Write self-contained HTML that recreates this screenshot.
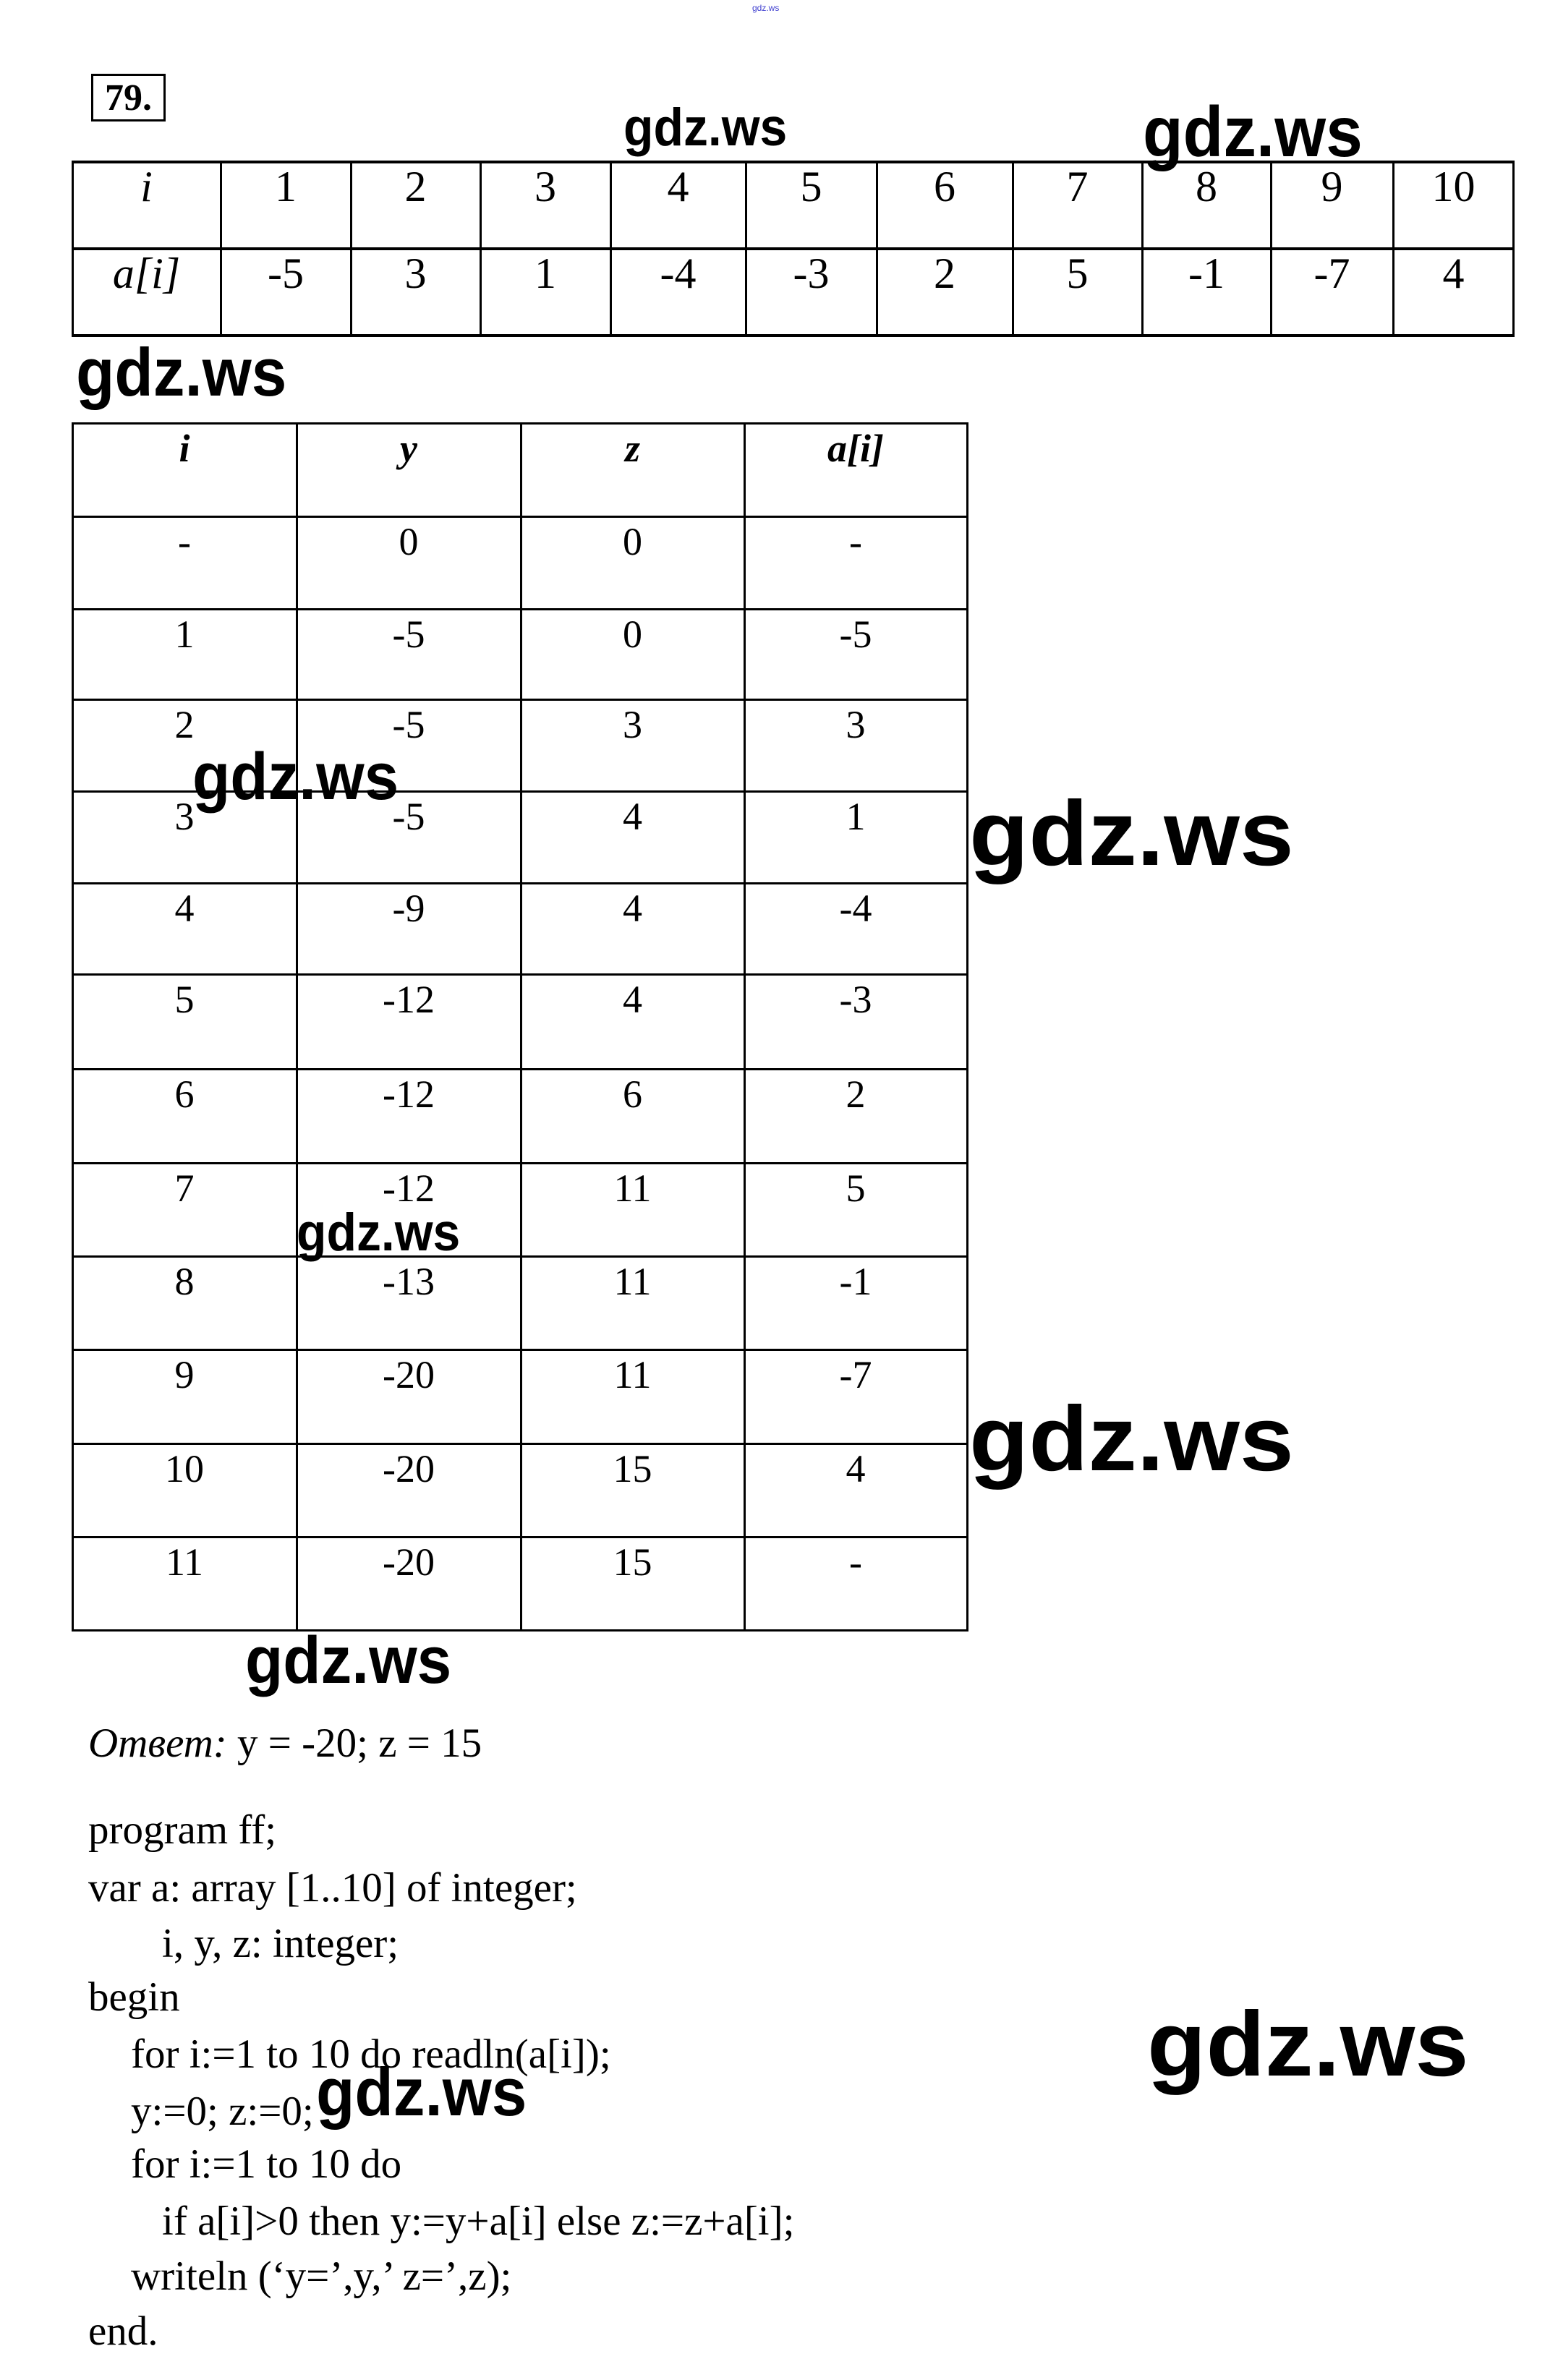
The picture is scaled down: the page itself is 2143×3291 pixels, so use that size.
<!DOCTYPE html>
<html><head><meta charset="utf-8"><style>
body{margin:0;width:2143px;height:3291px;background:#fff;position:relative;overflow:hidden;font-family:"Liberation Serif",serif;color:#000}
.a{position:absolute;white-space:nowrap}
.h{position:absolute;background:#000}
.c{position:absolute;text-align:center;font-size:60px;line-height:1}
.d{position:absolute;text-align:center;font-size:54px;line-height:1}
.w{position:absolute;font-family:"Liberation Sans",sans-serif;font-weight:bold;line-height:1;white-space:nowrap;transform-origin:0 0;color:#000;transform:scaleX(0.93)}
.code{position:absolute;left:122px;font-size:57px;line-height:1;white-space:nowrap}
</style></head><body>
<div class="a" style="left:1040px;top:4px;font-family:'Liberation Sans',sans-serif;font-size:12px;color:#4040d0">gdz.ws</div>
<div class="a" style="left:126px;top:102px;width:97px;height:60px;border:3px solid #000;font-weight:bold;font-size:52px;line-height:62px;text-align:center">79.</div>

<div class="h" style="left:100px;top:222px;width:1994px;height:4px"></div>
<div class="h" style="left:100px;top:342px;width:1994px;height:4px"></div>
<div class="h" style="left:100px;top:462px;width:1994px;height:4px"></div>
<div class="h" style="left:99px;top:222px;width:3px;height:244px"></div>
<div class="h" style="left:304px;top:222px;width:3px;height:244px"></div>
<div class="h" style="left:484px;top:222px;width:3px;height:244px"></div>
<div class="h" style="left:663px;top:222px;width:3px;height:244px"></div>
<div class="h" style="left:843px;top:222px;width:3px;height:244px"></div>
<div class="h" style="left:1030px;top:222px;width:3px;height:244px"></div>
<div class="h" style="left:1211px;top:222px;width:3px;height:244px"></div>
<div class="h" style="left:1399px;top:222px;width:3px;height:244px"></div>
<div class="h" style="left:1578px;top:222px;width:3px;height:244px"></div>
<div class="h" style="left:1756px;top:222px;width:3px;height:244px"></div>
<div class="h" style="left:1925px;top:222px;width:3px;height:244px"></div>
<div class="h" style="left:2091px;top:222px;width:3px;height:244px"></div>
<div id="t1"></div>

<div id="t2"></div>

<div class="code" style="top:2382px"><i>Ответ:</i> y = -20; z = 15</div>
<div class="code" style="top:2502px">program ff;</div>
<div class="code" style="top:2582px">var a: array [1..10] of integer;</div>
<div class="code" style="top:2659px;left:224px">i, y, z: integer;</div>
<div class="code" style="top:2733px">begin</div>
<div class="code" style="top:2812px;left:181px">for i:=1 to 10 do readln(a[i]);</div>
<div class="code" style="top:2891px;left:181px">y:=0; z:=0;</div>
<div class="code" style="top:2964px;left:181px">for i:=1 to 10 do</div>
<div class="code" style="top:3043px;left:224px">if a[i]&gt;0 then y:=y+a[i] else z:=z+a[i];</div>
<div class="code" style="top:3119px;left:181px">writeln (‘y=’,y,’ z=’,z);</div>
<div class="code" style="top:3195px">end.</div>

<div class="w" style="left:862px;top:140px;font-size:73px">gdz.ws</div>
<div class="w" style="left:1580px;top:133px;font-size:98px">gdz.ws</div>
<div class="w" style="left:105px;top:468px;font-size:94px">gdz.ws</div>
<div class="w" style="left:266px;top:1028px;font-size:92px">gdz.ws</div>
<div class="w" style="left:1340px;top:1089px;font-size:127px;transform:scaleX(1.06)">gdz.ws</div>
<div class="w" style="left:410px;top:1668px;font-size:73px">gdz.ws</div>
<div class="w" style="left:1340px;top:1926px;font-size:127px;transform:scaleX(1.06)">gdz.ws</div>
<div class="w" style="left:339px;top:2250px;font-size:92px">gdz.ws</div>
<div class="w" style="left:1586px;top:2763px;font-size:127px;transform:scaleX(1.05)">gdz.ws</div>
<div class="w" style="left:437px;top:2846px;font-size:94px">gdz.ws</div>

<script>
(function(){
var xs=[100,305,485,664,844,1031,1212,1400,1579,1757,1926,2093];
var r1=["<i>i</i>","1","2","3","4","5","6","7","8","9","10"];
var r2=["<i>a[i]</i>","-5","3","1","-4","-3","2","5","-1","-7","4"];
var h="";
for(var k=0;k<11;k++){
h+='<div class="c" style="left:'+xs[k]+'px;width:'+(xs[k+1]-xs[k])+'px;top:228px">'+r1[k]+'</div>';
h+='<div class="c" style="left:'+xs[k]+'px;width:'+(xs[k+1]-xs[k])+'px;top:348px">'+r2[k]+'</div>';
}
document.getElementById("t1").outerHTML=h;
var cx=[100,410,720,1029,1337];
var ry=[585,714,842,967,1094,1221,1347,1478,1608,1737,1866,1996,2125,2254];
var rows=[["<b><i>i</i></b>","<b><i>y</i></b>","<b><i>z</i></b>","<b><i>a[i]</i></b>"],
["-","0","0","-"],["1","-5","0","-5"],["2","-5","3","3"],["3","-5","4","1"],["4","-9","4","-4"],
["5","-12","4","-3"],["6","-12","6","2"],["7","-12","11","5"],["8","-13","11","-1"],["9","-20","11","-7"],
["10","-20","15","4"],["11","-20","15","-"]];
h="";
for(var i=0;i<ry.length;i++)h+='<div class="h" style="left:100px;top:'+(ry[i]-1)+'px;width:1238px;height:3px"></div>';
for(var j=0;j<cx.length;j++)h+='<div class="h" style="left:'+(cx[j]-1)+'px;top:584px;width:3px;height:1672px"></div>';
for(var r=0;r<rows.length;r++)for(var c=0;c<4;c++)
h+='<div class="d" style="left:'+cx[c]+'px;width:'+(cx[c+1]-cx[c])+'px;top:'+(ry[r]+8)+'px">'+rows[r][c]+'</div>';
document.getElementById("t2").outerHTML=h;
})();
</script>
</body></html>
